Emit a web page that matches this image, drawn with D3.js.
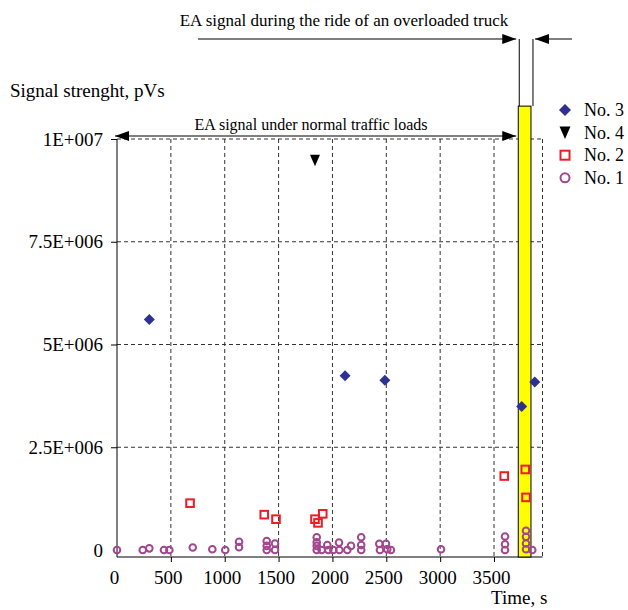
<!DOCTYPE html>
<html>
<head>
<meta charset="utf-8">
<script src="https://cdn.jsdelivr.net/npm/d3@7"></script>
<style>
    body { margin: 0; background: #fff; }
    text { font-family: "Liberation Serif", "Times New Roman", serif; fill: #000; }
</style>
</head>
<body>
<div id="chart"></div>
<script>

// ---- data ----
// No. 3 (diamonds)
const no3Time = [300, 2117, 2487, 3757, 3878];
const no3Signal = [5.61e6, 4.24e6, 4.13e6, 3.49e6, 4.09e6];

// No. 4 (triangle)
const no4Time = [1838];
const no4Signal = [9.48e6];

// No. 2 (squares)
const no2Time = [678, 1367, 1476, 1838, 1866, 1910, 3595, 3790, 3797];
const no2Signal = [1.14e6, 0.86e6, 0.75e6, 0.75e6, 0.66e6, 0.88e6, 1.80e6, 1.96e6, 1.28e6];

// No. 1 (circles)
const no1Time = [0, 239, 300, 436, 486, 703, 885, 1005, 1133, 1133,
    1390, 1390, 1390, 1467, 1467, 1854, 1854, 1854, 1854, 1900,
    1952, 1962, 2008, 2061, 2064, 2138, 2172, 2267, 2267, 2267,
    2435, 2441, 2497, 2509, 2543, 3008, 3602, 3602, 3602,
    3797, 3797, 3797, 3797, 3855];
const no1Signal = [0, 0, 0.04e6, 0, 0, 0.06e6, 0.02e6, 0, 0.2e6, 0.07e6,
    0.22e6, 0.1e6, 0, 0.16e6, 0, 0.31e6, 0.19e6, 0.1e6, 0, 0,
    0.12e6, 0, 0, 0.18e6, 0, 0, 0.1e6, 0.31e6, 0.12e6, 0,
    0.15e6, 0, 0.15e6, 0.02e6, 0, 0.02e6, 0.33e6, 0.14e6, 0,
    0.47e6, 0.32e6, 0.16e6, 0.02e6, 0];

// overloaded truck window (yellow bar)
const truckWindow = [3725, 3843];
const truckBarTop = 10.8e6;

// ticks
const xTickValues = [0, 500, 1000, 1500, 2000, 2500, 3000, 3500];
const yTickValues = [0, 2.5e6, 5e6, 7.5e6, 1e7];
const yTickLabels = ["0", "2.5E+006", "5E+006", "7.5E+006", "1E+007"];

const legendLabels = ["No. 3", "No. 4", "No. 2", "No. 1"];

const colors = {no3: "#2e3192", no4: "#000", no2: "#ed1c24", no1: "#a1468f", bar: "#ffff00"};


class SignalVis {

    constructor(parentElement) {
        this.parentElement = parentElement;
        this.initVis();
    }

    initVis() {
        let vis = this;

        vis.width = 628;
        vis.height = 610;

        vis.svg = d3.select("#" + vis.parentElement).append("svg")
            .attr("width", vis.width)
            .attr("height", vis.height);

        // plot area box (px)
        vis.plot = {left: 117, right: 542.5, top: 139, bottom: 557};

        vis.x = d3.scaleLinear()
            .domain([0, 3950])
            .range([vis.plot.left, vis.plot.right]);

        vis.y = d3.scaleLinear()
            .domain([-0.17e6, 1e7])
            .range([vis.plot.bottom, vis.plot.top]);

        let defs = vis.svg.append("defs");
        ["arrowEnd", "arrowStart"].forEach((id, i) => {
            defs.append("marker")
                .attr("id", id)
                .attr("viewBox", "0 0 14 10")
                .attr("refX", i === 0 ? 14 : 0)
                .attr("refY", 5)
                .attr("markerWidth", 14)
                .attr("markerHeight", 10)
                .attr("markerUnits", "userSpaceOnUse")
                .attr("orient", "auto")
                .append("path")
                .attr("d", i === 0 ? "M0,0 L14,5 L0,10 Z" : "M14,0 L0,5 L14,10 Z")
                .attr("fill", "#000");
        });

        vis.drawGrid();
        vis.drawAxes();
        vis.updateVis();
        vis.drawAnnotations();
        vis.drawLegend();
    }

    drawGrid() {
        let vis = this;
        let grid = vis.svg.append("g").attr("class", "grid");

        // horizontal dashed lines (incl. top border)
        grid.selectAll(".hgrid")
            .data(yTickValues.filter(d => d > 0))
            .enter().append("line")
            .attr("x1", vis.plot.left).attr("x2", vis.plot.right)
            .attr("y1", d => vis.y(d)).attr("y2", d => vis.y(d))
            .attr("stroke", "#333").attr("stroke-dasharray", "4,3");

        // vertical dashed lines (incl. right border)
        grid.selectAll(".vgrid")
            .data(xTickValues.filter(d => d > 0).concat([3950]))
            .enter().append("line")
            .attr("x1", d => vis.x(d)).attr("x2", d => vis.x(d))
            .attr("y1", vis.plot.top).attr("y2", vis.plot.bottom)
            .attr("stroke", "#333").attr("stroke-dasharray", "4,3");
    }

    drawAxes() {
        let vis = this;

        let xAxis = d3.axisBottom(vis.x)
            .tickValues(xTickValues)
            .tickFormat(d3.format("d"))
            .tickSize(5)
            .tickPadding(9);

        let yAxis = d3.axisLeft(vis.y)
            .tickValues(yTickValues)
            .tickFormat((d, i) => yTickLabels[i])
            .tickSize(6)
            .tickPadding(8);

        let gx = vis.svg.append("g")
            .attr("transform", `translate(0, ${vis.plot.bottom})`)
            .call(xAxis);
        gx.select(".domain").attr("d", `M${vis.plot.left},0H${vis.plot.right}`);
        gx.selectAll(".tick").filter(d => d === 0).select("line").remove();
        gx.selectAll(".tick text").attr("dx", -3);

        let gy = vis.svg.append("g")
            .attr("transform", `translate(${vis.plot.left}, 0)`)
            .call(yAxis);
        gy.select(".domain").attr("d", `M0,${vis.plot.top}V${vis.plot.bottom}`);
        gy.selectAll(".tick").filter(d => d === 0).select("line").remove();

        vis.svg.selectAll(".tick text")
            .attr("font-family", null)
            .style("font-family", '"Liberation Serif", "Times New Roman", serif')
            .style("font-size", "19px");
        vis.svg.selectAll(".domain, .tick line").attr("stroke", "#000");

        vis.svg.append("text")
            .attr("x", 10).attr("y", 97)
            .style("font-size", "19px")
            .text("Signal strenght, pVs");

        vis.svg.append("text")
            .attr("x", 491).attr("y", 604)
            .style("font-size", "19px")
            .text("Time, s");
    }

    updateVis() {
        let vis = this;

        // yellow bar: overloaded truck
        vis.svg.append("rect")
            .attr("x", vis.x(truckWindow[0]))
            .attr("y", vis.y(truckBarTop))
            .attr("width", vis.x(truckWindow[1]) - vis.x(truckWindow[0]))
            .attr("height", vis.plot.bottom - vis.y(truckBarTop))
            .attr("fill", colors.bar)
            .attr("stroke", "#000");

        // No. 1 circles
        vis.svg.append("g").selectAll("circle")
            .data(no1Time.map((t, i) => ({t: t, v: no1Signal[i]})))
            .enter().append("circle")
            .attr("cx", d => vis.x(d.t))
            .attr("cy", d => vis.y(d.v))
            .attr("r", 3.3)
            .attr("fill", "none")
            .attr("stroke", colors.no1)
            .attr("stroke-width", 2);

        // No. 2 squares
        vis.svg.append("g").selectAll("rect")
            .data(no2Time.map((t, i) => ({t: t, v: no2Signal[i]})))
            .enter().append("rect")
            .attr("x", d => vis.x(d.t) - 3.8)
            .attr("y", d => vis.y(d.v) - 3.8)
            .attr("width", 7.6).attr("height", 7.6)
            .attr("fill", "none")
            .attr("stroke", colors.no2)
            .attr("stroke-width", 2);

        // No. 3 diamonds
        vis.svg.append("g").selectAll("path")
            .data(no3Time.map((t, i) => ({t: t, v: no3Signal[i]})))
            .enter().append("path")
            .attr("d", "M0,-5.5L5.5,0L0,5.5L-5.5,0Z")
            .attr("transform", d => `translate(${vis.x(d.t)}, ${vis.y(d.v)})`)
            .attr("fill", colors.no3);

        // No. 4 triangle
        vis.svg.append("g").selectAll("path")
            .data(no4Time.map((t, i) => ({t: t, v: no4Signal[i]})))
            .enter().append("path")
            .attr("d", "M-5,-5.5L5,-5.5L0,6Z")
            .attr("transform", d => `translate(${vis.x(d.t)}, ${vis.y(d.v)})`)
            .attr("fill", colors.no4);
    }

    drawAnnotations() {
        let vis = this;

        let barLeft = vis.x(truckWindow[0]) + 1;
        let barRight = vis.x(truckWindow[1]) + 2;
        let barTop = vis.y(truckBarTop);

        // vertical guide lines above the bar
        [barLeft, barRight].forEach(xx => {
            vis.svg.append("line")
                .attr("x1", xx).attr("x2", xx)
                .attr("y1", 39).attr("y2", barTop)
                .attr("stroke", "#000");
        });

        // arrows pointing at the truck window
        vis.svg.append("line")
            .attr("x1", 198).attr("x2", barLeft - 3)
            .attr("y1", 39).attr("y2", 39)
            .attr("stroke", "#000").attr("stroke-width", 1.2)
            .attr("marker-end", "url(#arrowEnd)");

        vis.svg.append("line")
            .attr("x1", 572).attr("x2", barRight + 2)
            .attr("y1", 39).attr("y2", 39)
            .attr("stroke", "#000").attr("stroke-width", 1.2)
            .attr("marker-end", "url(#arrowEnd)");

        vis.svg.append("text")
            .attr("x", 344).attr("y", 26)
            .attr("text-anchor", "middle")
            .style("font-size", "17px")
            .text("EA signal during the ride of an overloaded truck");

        // double arrow over normal traffic
        vis.svg.append("line")
            .attr("x1", vis.plot.left - 2).attr("x2", barLeft - 3)
            .attr("y1", 136).attr("y2", 136)
            .attr("stroke", "#000").attr("stroke-width", 1.2)
            .attr("marker-start", "url(#arrowStart)")
            .attr("marker-end", "url(#arrowEnd)");

        vis.svg.append("text")
            .attr("x", 311).attr("y", 130)
            .attr("text-anchor", "middle")
            .style("font-size", "16px")
            .text("EA signal under normal traffic loads");
    }

    drawLegend() {
        let vis = this;

        let items = vis.svg.append("g")
            .attr("class", "legend")
            .selectAll("g")
            .data(legendLabels)
            .enter().append("g")
            .attr("transform", (d, i) => `translate(565, ${110 + i * 22.6})`);

        items.each(function(d, i) {
            let g = d3.select(this);
            if (i === 0) {
                g.append("path").attr("d", "M0,-6L6,0L0,6L-6,0Z").attr("fill", colors.no3);
            } else if (i === 1) {
                g.append("path").attr("d", "M-5.5,-6L5.5,-6L0,6.5Z").attr("fill", colors.no4);
            } else if (i === 2) {
                g.append("rect").attr("x", -4.5).attr("y", -4.5).attr("width", 9).attr("height", 9)
                    .attr("fill", "none").attr("stroke", colors.no2).attr("stroke-width", 2);
            } else {
                g.append("circle").attr("r", 4.5)
                    .attr("fill", "none").attr("stroke", colors.no1).attr("stroke-width", 2);
            }
        });

        items.append("text")
            .attr("x", 19).attr("y", 6)
            .style("font-size", "18px")
            .text(d => d);
    }
}

new SignalVis("chart");
</script>
</body>
</html>
